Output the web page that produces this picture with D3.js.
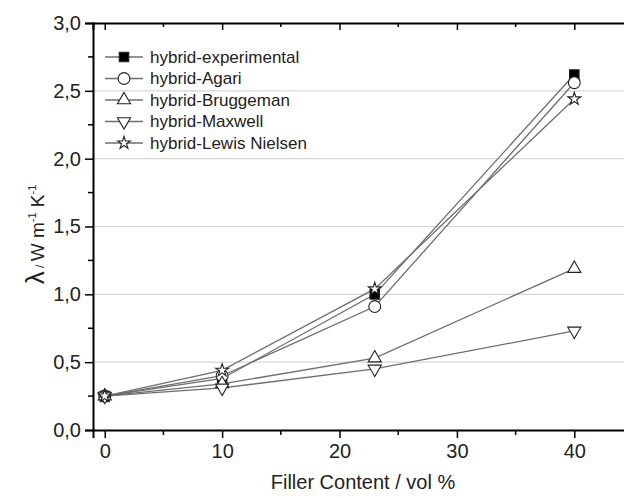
<!DOCTYPE html>
<html>
<head>
<meta charset="utf-8">
<script src="https://cdn.jsdelivr.net/npm/d3@7"></script>
<style>
  body { margin: 0; background: #fff; }
  text { font-family: "Liberation Sans", Arial, sans-serif; fill: #222; }
</style>
</head>
<body>
<script>
// data
var fillerContent = [0, 10, 23, 40];
var seriesNames = ["hybrid-experimental", "hybrid-Agari", "hybrid-Bruggeman", "hybrid-Maxwell", "hybrid-Lewis Nielsen"];
var experimental = [0.25, 0.38, 1.00, 2.62];
var agari = [0.25, 0.40, 0.91, 2.56];
var bruggeman = [0.25, 0.34, 0.53, 1.19];
var maxwell = [0.25, 0.31, 0.45, 0.73];
var lewisNielsen = [0.25, 0.44, 1.04, 2.44];
var yTicks = [0, 0.5, 1, 1.5, 2, 2.5, 3];
var xTicks = [0, 10, 20, 30, 40];

var width = 624, height = 498;
var margin = {top: 23, right: -9, bottom: 68, left: 93}; // plot runs past the right edge

var svg = d3.select("body").append("svg")
    .attr("width", width)
    .attr("height", height);

var x = d3.scaleLinear().domain([-1, 45]).range([margin.left, width - margin.right]);
var y = d3.scaleLinear().domain([0, 3]).range([height - margin.bottom, margin.top]);

var comma = function(d) { return d3.format(".1f")(d).replace(".", ","); };

// grid lines
svg.selectAll(".grid")
    .data(yTicks.filter(function(d) { return d > 0 && d < 3; }))
  .enter().append("line")
    .attr("x1", x(-1)).attr("x2", width)
    .attr("y1", function(d) { return y(d); })
    .attr("y2", function(d) { return y(d); })
    .attr("stroke", "#d6d6d6")
    .attr("stroke-width", 1.2);

// bottom axis
var xAxis = svg.append("g")
    .attr("transform", "translate(0," + y(0) + ")")
    .call(d3.axisBottom(x).tickValues(xTicks).tickSize(8).tickPadding(6).tickFormat(d3.format("d")));
xAxis.selectAll(".tick line").attr("stroke-width", 1.5);
xAxis.selectAll("text").style("font-size", "20px").attr("fill", "#222");
xAxis.select(".domain").attr("stroke-width", 2);
xAxis.selectAll(".minor")
    .data([5, 15, 25, 35, 45])
  .enter().append("line")
    .attr("x1", function(d) { return x(d); }).attr("x2", function(d) { return x(d); })
    .attr("y1", 0).attr("y2", 5)
    .attr("stroke", "#000").attr("stroke-width", 1.5);

// top axis, ticks inside
var topAxis = svg.append("g")
    .attr("transform", "translate(0," + y(3) + ")")
    .call(d3.axisBottom(x).tickValues(xTicks).tickSize(7).tickFormat(""));
topAxis.selectAll(".tick line").attr("stroke-width", 1.5);
topAxis.select(".domain").attr("stroke-width", 2);
topAxis.selectAll(".minor")
    .data([5, 15, 25, 35, 45])
  .enter().append("line")
    .attr("x1", function(d) { return x(d); }).attr("x2", function(d) { return x(d); })
    .attr("y1", 0).attr("y2", 4)
    .attr("stroke", "#000").attr("stroke-width", 1.5);

// left axis
var yAxis = svg.append("g")
    .attr("transform", "translate(" + x(-1) + ",0)")
    .call(d3.axisLeft(y).tickValues(yTicks).tickSize(8).tickPadding(4).tickFormat(comma));
yAxis.selectAll(".tick line").attr("stroke-width", 1.5);
yAxis.selectAll("text").style("font-size", "20px").attr("fill", "#222");
yAxis.select(".domain").attr("stroke-width", 2);
yAxis.selectAll(".minor")
    .data([0.25, 0.75, 1.25, 1.75, 2.25, 2.75])
  .enter().append("line")
    .attr("y1", function(d) { return y(d); }).attr("y2", function(d) { return y(d); })
    .attr("x1", 0).attr("x2", -5)
    .attr("stroke", "#000").attr("stroke-width", 1.5);

// axis titles
svg.append("text")
    .attr("x", (x(-1) + x(45)) / 2)
    .attr("y", 489)
    .attr("text-anchor", "middle")
    .style("font-size", "20px")
    .text("Filler Content / vol %");

var yTitle = svg.append("text")
    .attr("transform", "translate(44," + ((y(0) + y(3)) / 2 + 8) + ") rotate(-90)")
    .attr("text-anchor", "middle")
    .style("font-size", "19px");
yTitle.append("tspan").style("font-size", "26px").text("λ");
yTitle.append("tspan").style("font-size", "12px").text(" / ");
yTitle.append("tspan").text("W m");
yTitle.append("tspan").attr("dy", -8).style("font-size", "11px").text("-1");
yTitle.append("tspan").attr("dy", 8).text(" K");
yTitle.append("tspan").attr("dy", -8).style("font-size", "11px").text("-1");

// series
var allSeries = [experimental, agari, bruggeman, maxwell, lewisNielsen];
var symbols = [
  {type: d3.symbolSquare, size: 90, fill: "#000", rot: 0},
  {type: d3.symbolCircle, size: 110, fill: "#fff", rot: 0},
  {type: d3.symbolTriangle, size: 75, fill: "#fff", rot: 0},
  {type: d3.symbolTriangle, size: 75, fill: "#fff", rot: 180},
  {type: d3.symbolStar, size: 50, fill: "#fff", rot: 0}
];

var line = d3.line()
    .x(function(d, i) { return x(fillerContent[i]); })
    .y(function(d) { return y(d); });

svg.selectAll(".series")
    .data(allSeries)
  .enter().append("path")
    .attr("d", line)
    .attr("fill", "none")
    .attr("stroke", "#6e6e6e")
    .attr("stroke-width", 1.3);

allSeries.forEach(function(vals, s) {
  var sym = symbols[s];
  svg.selectAll(".pt" + s)
      .data(vals)
    .enter().append("path")
      .attr("d", d3.symbol().type(sym.type).size(sym.size))
      .attr("transform", function(d, i) {
        return "translate(" + x(fillerContent[i]) + "," + y(d) + ") rotate(" + sym.rot + ")";
      })
      .attr("fill", sym.fill)
      .attr("stroke", "#222")
      .attr("stroke-width", 1.1);
});

// legend
var legendY = d3.scaleLinear().domain([0, 4]).range([57, 143]);
var legend = svg.selectAll(".legend")
    .data(seriesNames)
  .enter().append("g")
    .attr("transform", function(d, i) { return "translate(105," + legendY(i) + ")"; });

legend.append("line")
    .attr("x1", 0).attr("x2", 38)
    .attr("stroke", "#6e6e6e").attr("stroke-width", 1.3);

legend.append("path")
    .attr("d", function(d, i) { return d3.symbol().type(symbols[i].type).size(symbols[i].size)(); })
    .attr("transform", function(d, i) { return "translate(19,0) rotate(" + symbols[i].rot + ")"; })
    .attr("fill", function(d, i) { return symbols[i].fill; })
    .attr("stroke", "#222")
    .attr("stroke-width", 1.1);

legend.append("text")
    .attr("x", 45)
    .attr("dy", "0.35em")
    .style("font-size", "17px")
    .text(function(d) { return d; });
</script>
</body>
</html>
